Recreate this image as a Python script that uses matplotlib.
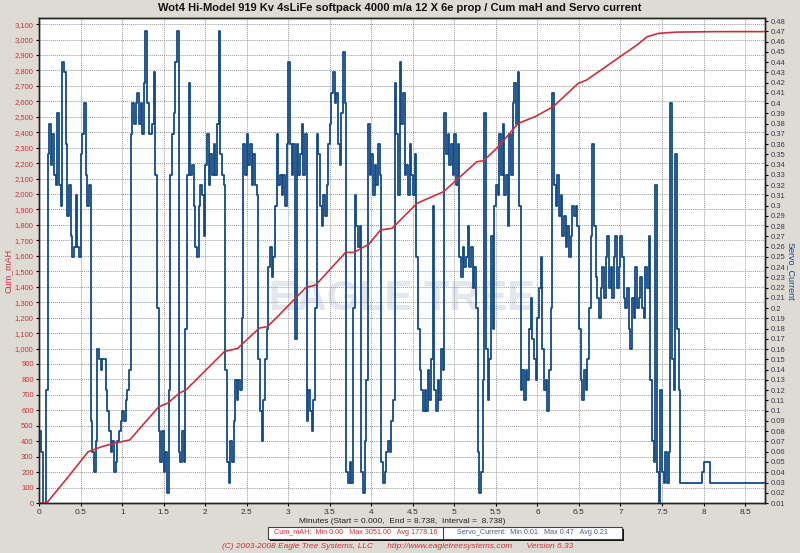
import numpy as np
import matplotlib
matplotlib.use("Agg")
import matplotlib.pyplot as plt
from matplotlib.patches import Rectangle
from matplotlib.ticker import FuncFormatter, MultipleLocator

plt.rcParams['font.family'] = ['Liberation Sans', 'DejaVu Sans']

title = "Wot4 Hi-Model 919 Kv 4sLiFe softpack 4000 m/a 12 X 6e prop / Cum maH and Servo current"

# cumulative mAh (red, left axis)
cum_t = [0.0, 0.09, 0.19, 0.35, 0.59, 0.75, 0.91, 1.09, 1.44, 1.55, 1.69, 1.77,
         2.23, 2.39, 2.65, 2.75, 2.89, 3.21, 3.33, 3.69, 3.79, 3.97, 4.11, 4.25,
         4.33, 4.55, 4.87, 5.27, 5.35, 5.51, 5.77, 5.97, 6.19, 6.49, 6.59, 7.21,
         7.32, 7.46, 7.68, 8.16, 8.738]
cum_mah = [0, 0, 65, 170, 332, 364, 388, 408, 623, 647, 712, 733,
           980, 1001, 1132, 1142, 1217, 1394, 1411, 1622, 1622, 1675, 1767, 1778,
           1821, 1940, 2015, 2209, 2215, 2296, 2458, 2500, 2565, 2716, 2737, 2969,
           3018, 3040, 3048, 3051, 3051]

# servo current (blue, right axis), one sample every 0.02 min
sample_dt = 0.02
servo = [
    0.08, 0.06, 0.01, 0.01, 0.12,  0.35, 0.38, 0.34, 0.37, 0.33,
    0.32, 0.39, 0.32, 0.30, 0.44,  0.43, 0.36, 0.29, 0.32, 0.27,
    0.25, 0.26, 0.31, 0.26, 0.25,  0.35, 0.37, 0.40, 0.33, 0.30,
    0.32, 0.09, 0.06, 0.04, 0.07,  0.16, 0.15, 0.14, 0.15, 0.15,
    0.12, 0.10, 0.08, 0.06, 0.07,  0.04, 0.05, 0.07, 0.08, 0.09,
    0.10, 0.09, 0.11, 0.12, 0.14,  0.37, 0.40, 0.38, 0.40, 0.41,
    0.38, 0.40, 0.37, 0.42, 0.47,  0.40, 0.37, 0.37, 0.38, 0.43,
    0.33, 0.20, 0.08, 0.05, 0.08,  0.04, 0.06, 0.02, 0.12, 0.33,
    0.37, 0.39, 0.44, 0.47, 0.06,  0.05, 0.08, 0.05, 0.18, 0.33,
    0.42, 0.33, 0.34, 0.30, 0.26,  0.25, 0.30, 0.32, 0.31, 0.27,
    0.34, 0.37, 0.32, 0.35, 0.33,  0.36, 0.33, 0.38, 0.47, 0.35,
    0.33, 0.32, 0.14, 0.05, 0.03,  0.07, 0.05, 0.09, 0.13, 0.11,
    0.13, 0.12, 0.19, 0.36, 0.33,  0.37, 0.34, 0.36, 0.32, 0.35,
    0.32, 0.31, 0.15, 0.10, 0.07,  0.11, 0.15, 0.18, 0.24, 0.26,
    0.23, 0.25, 0.30, 0.37, 0.32,  0.33, 0.31, 0.33, 0.30, 0.36,
    0.44, 0.36, 0.33, 0.36, 0.17,  0.36, 0.33, 0.35, 0.38, 0.33,
    0.37, 0.09, 0.12, 0.10, 0.08,  0.11, 0.20, 0.37, 0.35, 0.30,
    0.28, 0.31, 0.29, 0.32, 0.36,  0.38, 0.41, 0.43, 0.40, 0.41,
    0.36, 0.34, 0.39, 0.45, 0.40,  0.04, 0.03, 0.05, 0.03, 0.20,
    0.31, 0.28, 0.26, 0.28, 0.04,  0.02, 0.07, 0.13, 0.38, 0.33,
    0.35, 0.31, 0.34, 0.32, 0.36,  0.33, 0.05, 0.03, 0.04, 0.06,
    0.07, 0.06, 0.09, 0.11, 0.42,  0.37, 0.31, 0.44, 0.38, 0.41,
    0.33, 0.34, 0.31, 0.36, 0.33,  0.31, 0.35, 0.25, 0.18, 0.14,
    0.12, 0.10, 0.12, 0.10, 0.14,  0.11, 0.15, 0.30, 0.12, 0.10,
    0.13, 0.11, 0.16, 0.14, 0.39,  0.35, 0.37, 0.34, 0.36, 0.33,
    0.37, 0.32, 0.36, 0.25, 0.23,  0.26, 0.24, 0.25, 0.28, 0.24,
    0.26, 0.22, 0.24, 0.20, 0.06,  0.02, 0.04, 0.13, 0.39, 0.16,
    0.11, 0.15, 0.27, 0.18, 0.30,  0.32, 0.31, 0.37, 0.33, 0.38,
    0.31, 0.33, 0.28, 0.37, 0.33,  0.40, 0.42, 0.38, 0.43, 0.30,
    0.12, 0.14, 0.11, 0.14, 0.13,  0.18, 0.21, 0.17, 0.15, 0.13,
    0.19, 0.22, 0.25, 0.16, 0.12,  0.13, 0.10, 0.14, 0.20, 0.41,
    0.32, 0.30, 0.33, 0.29, 0.31,  0.27, 0.29, 0.26, 0.28, 0.25,
    0.27, 0.30, 0.29, 0.30, 0.28,  0.18, 0.13, 0.11, 0.14, 0.12,
    0.15, 0.20, 0.27, 0.36, 0.28,  0.23, 0.21, 0.19, 0.22, 0.24,
    0.21, 0.25, 0.27, 0.22, 0.24,  0.21, 0.25, 0.27, 0.22, 0.24,
    0.27, 0.25, 0.21, 0.20, 0.22,  0.18, 0.16, 0.21, 0.19, 0.24,
    0.20, 0.21, 0.23, 0.20, 0.19,  0.24, 0.22, 0.27, 0.13, 0.07,
    0.05, 0.32, 0.04, 0.01, 0.12,  0.04, 0.03, 0.06, 0.03, 0.06,
    0.40, 0.15, 0.12, 0.35, 0.18,  0.12, 0.03, 0.03, 0.03, 0.03,
    0.03, 0.03, 0.03, 0.03, 0.03,  0.03, 0.03, 0.03, 0.03, 0.04,
    0.05, 0.05, 0.05, 0.05, 0.03,  0.03, 0.03, 0.03, 0.03, 0.03,
    0.03, 0.03, 0.03, 0.03, 0.03,  0.03, 0.03, 0.03, 0.03, 0.03,
    0.03, 0.03, 0.03, 0.03, 0.03,  0.03, 0.03, 0.03, 0.03, 0.03,
    0.03, 0.03, 0.03, 0.03, 0.03,  0.03, 0.03, 0.03, 0.03, 0.03,
    0.03, 0.03, 0.03, 0.03, 0.03,  0.03, 0.03, 0.03,
]
servo_t = np.arange(len(servo)) * sample_dt

x_end = 8.738
legend_cum = "Cum_mAH:  Min 0.00   Max 3051.00   Avg 1778.16"
legend_servo = "Servo_Current:  Min 0.01   Max 0.47   Avg 0.21"
footer = ("(C) 2003-2008 Eagle Tree Systems, LLC      "
          "http://www.eagletreesystems.com      Version 6.33")

red = '#c8323a'
blue = '#134a86'
bg = '#dedbd5'

fig = plt.figure(figsize=(8, 5.53), dpi=100, facecolor=bg)
ax = fig.add_axes([0.049, 0.0904, 0.907, 0.877])
ax.set_facecolor('white')
ax2 = ax.twinx()   # sits on top, transparent

ax.grid(True, color='#9a9a9a', ls=(0, (1, 1)), lw=0.7)
ax.set_axisbelow(True)

# faint logo text behind the traces
ax.text(0.5, 0.42, "EAGLE TREE", transform=ax.transAxes, ha='center', va='center',
        fontsize=30, fontweight='bold', color='#e3e6ee', zorder=0.5)

ax.set_xlim(0, x_end)
ax.set_ylim(0, 3139)
ax2.set_ylim(0.01, 0.483)

ax2.plot(servo_t, servo, color=blue, lw=1.3, drawstyle='steps-post', zorder=2)
# red line in left-axis units, drawn above the blue trace
ax2.plot(cum_t, cum_mah, color=red, lw=1.2, zorder=3, transform=ax.transData)

ax.xaxis.set_major_locator(MultipleLocator(0.5))
ax.yaxis.set_major_locator(MultipleLocator(100))
ax2.yaxis.set_major_locator(MultipleLocator(0.01))
ax.xaxis.set_major_formatter(FuncFormatter(lambda v, p: f"{v:g}"))
ax.yaxis.set_major_formatter(FuncFormatter(lambda v, p: f"{int(v):,}"))
ax2.yaxis.set_major_formatter(FuncFormatter(lambda v, p: f"{round(v, 2):g}"))

ax.tick_params(axis='y', labelsize=5.5, labelcolor=red, length=2, pad=2)
ax.tick_params(axis='x', labelsize=6, labelcolor='#333333', length=2, pad=2)
ax2.tick_params(axis='y', labelsize=5.5, labelcolor='#3a3a4a', length=2, pad=2)
for a in (ax, ax2):
    for s in a.spines.values():
        s.set_color('#222222')
        s.set_linewidth(1.0)

fig.text(0.01, 0.51, "Cum_mAH", rotation=90, color=red, fontsize=6.5,
         ha='center', va='center')
fig.text(0.988, 0.51, "Servo_Current", rotation=270, color=blue, fontsize=6.5,
         ha='center', va='center')

fig.text(0.5, 0.985, title, ha='center', va='center', fontsize=8,
         fontweight='bold', color='#111111')
fig.text(0.503, 0.057, "Minutes (Start = 0.000,  End = 8.738,  Interval =  8.738)",
         ha='center', va='center', fontsize=6, color='#222222')

# legend box
lx0, lx1, lxm = 268 / 800, 622 / 800, 443 / 800
ly0, ly1 = 1 - 539 / 553, 1 - 527 / 553
fig.patches.append(Rectangle((lx0 + 0.002, ly0 - 0.004), lx1 - lx0, ly1 - ly0,
                             transform=fig.transFigure, facecolor='#111111',
                             edgecolor='none'))
fig.patches.append(Rectangle((lx0, ly0), lx1 - lx0, ly1 - ly0,
                             transform=fig.transFigure, facecolor='white',
                             edgecolor='#444444', lw=0.8))
fig.add_artist(plt.Line2D([lxm, lxm], [ly0, ly1], transform=fig.transFigure,
                          color='#444444', lw=0.8))
fig.text((lx0 + lxm) / 2, (ly0 + ly1) / 2, legend_cum, ha='center', va='center',
         fontsize=5.2, color=red)
fig.text((lxm + lx1) / 2, (ly0 + ly1) / 2, legend_servo, ha='center', va='center',
         fontsize=5.2, color='#4a5a8a')

fig.text(0.497, 0.011, footer, ha='center', va='center', fontsize=6,
         color=red, style='italic')

fig.savefig('out.png', dpi=100, facecolor=bg)
